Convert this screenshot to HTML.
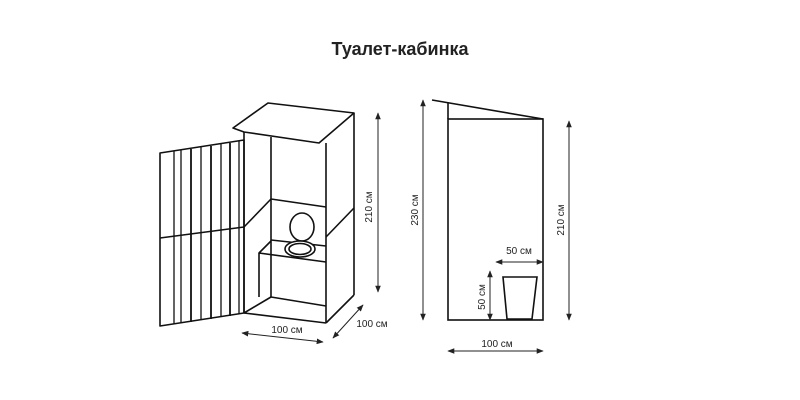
<!DOCTYPE html>
<html><head><meta charset="utf-8"><style>html,body{margin:0;padding:0;background:#fff;}svg{display:block}</style></head>
<body>
<svg width="800" height="400" viewBox="0 0 800 400" xmlns="http://www.w3.org/2000/svg">
<defs>
<marker id="a" viewBox="0 0 10 10" refX="9" refY="5" markerWidth="7" markerHeight="7" orient="auto-start-reverse"><path d="M0,1 L10,5 L0,9 Z" fill="#222"/></marker>
</defs>
<text x="400" y="55" text-anchor="middle" font-family="Liberation Sans, sans-serif" font-size="18" font-weight="bold" fill="#222">Туалет-кабинка</text>
<g stroke="#111" stroke-width="1.6" fill="none" stroke-linejoin="round">
<!-- roof -->
<polygon points="233,128 268,103 354,113 319,143 244,132" fill="#fff"/>
<!-- box -->
<line x1="244" y1="132" x2="244" y2="313"/>
<line x1="271" y1="137" x2="271" y2="297"/>
<line x1="326" y1="143" x2="326" y2="323"/>
<line x1="354" y1="113" x2="354" y2="295"/>
<line x1="244" y1="313" x2="326" y2="323"/>
<line x1="326" y1="323" x2="354" y2="295"/>
<line x1="244" y1="313" x2="271" y2="297"/>
<line x1="271" y1="297" x2="326" y2="306"/>
<line x1="244" y1="227" x2="271" y2="199"/>
<line x1="271" y1="199" x2="326" y2="207"/>
<line x1="326" y1="237" x2="354" y2="208"/>
<!-- seat box -->
<polyline points="259,297 259,253 326,262"/>
<line x1="259" y1="253" x2="271" y2="241"/>
<line x1="271" y1="240" x2="326" y2="246"/>
<ellipse cx="302" cy="227" rx="12" ry="14" fill="#fff"/>
<ellipse cx="300" cy="249" rx="15" ry="8" fill="#fff"/>
<ellipse cx="300" cy="249" rx="11" ry="5.5"/>
<!-- door -->
<polygon points="160,153 244,140 244,313 160,326"/>
<line x1="160" y1="238" x2="244" y2="227"/>
</g>
<g stroke="#111" stroke-width="1.3">
<line x1="174" y1="151" x2="174" y2="324"/>
<line x1="181" y1="150" x2="181" y2="323"/>
<line x1="191" y1="149" x2="191" y2="322" stroke-width="1.8"/>
<line x1="201" y1="147" x2="201" y2="320"/>
<line x1="211" y1="146" x2="211" y2="319" stroke-width="1.8"/>
<line x1="221" y1="144" x2="221" y2="317"/>
<line x1="230" y1="143" x2="230" y2="316" stroke-width="1.8"/>
<line x1="239" y1="141" x2="239" y2="314"/>
</g>
<!-- side view -->
<g stroke="#111" stroke-width="1.6" fill="none">
<rect x="448" y="119" width="95" height="201"/>
<line x1="432" y1="100" x2="543" y2="119"/>
<line x1="448" y1="103" x2="448" y2="119"/>
<polygon points="503,277 537,277 532,319 507,319"/>
</g>
<g stroke="#222" stroke-width="1" marker-start="url(#a)" marker-end="url(#a)">
<line x1="378" y1="113" x2="378" y2="292"/>
<line x1="242" y1="333" x2="323" y2="342"/>
<line x1="333" y1="338" x2="363" y2="305"/>
<line x1="423" y1="100" x2="423" y2="320"/>
<line x1="569" y1="121" x2="569" y2="320"/>
<line x1="496" y1="262" x2="543" y2="262"/>
<line x1="490" y1="271" x2="490" y2="320"/>
<line x1="448" y1="351" x2="543" y2="351"/>
</g>
<g font-family="Liberation Sans, sans-serif" font-size="10" fill="#222" text-anchor="middle">
<text transform="translate(372,207) rotate(-90)">210 см</text>
<text x="287" y="333">100 см</text>
<text x="372" y="327">100 см</text>
<text transform="translate(418,210) rotate(-90)">230 см</text>
<text transform="translate(564,220) rotate(-90)">210 см</text>
<text x="519" y="254">50 см</text>
<text transform="translate(485,297) rotate(-90)">50 см</text>
<text x="497" y="347">100 см</text>
</g>
</svg>
</body></html>
